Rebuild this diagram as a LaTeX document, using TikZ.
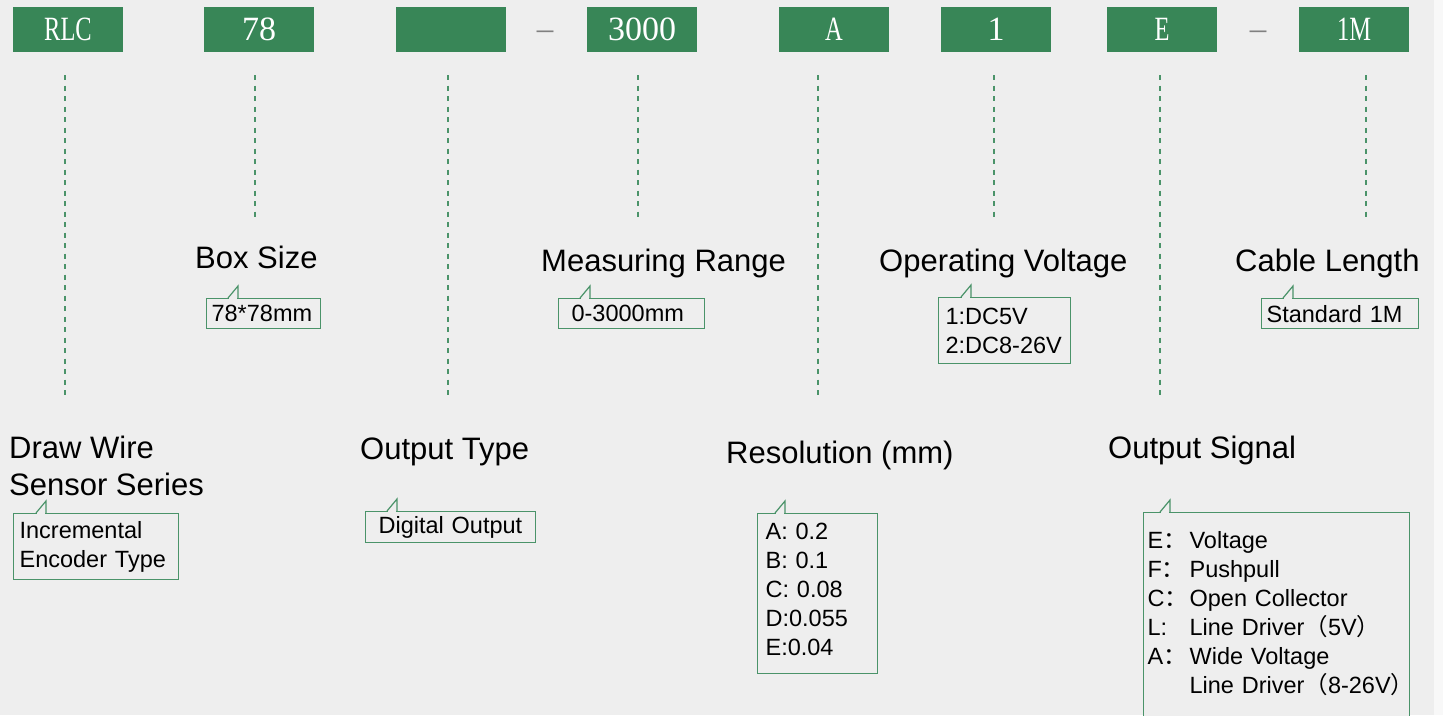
\documentclass[tikz,border=0pt]{standalone}
\usepackage{fontspec}
\usepackage{graphicx}
\setmainfont{Liberation Sans}
\newfontfamily\codefont{Liberation Serif}
\newfontfamily\cjk{Noto Sans CJK SC}
\definecolor{bg}{HTML}{EEEEEE}
\definecolor{strip}{HTML}{F8F8F8}
\definecolor{codegreen}{HTML}{388657}
\definecolor{linegreen}{HTML}{4A9369}
\newcommand\narrow[1]{\scalebox{0.72}[1]{#1}}
\newcommand\fw[1]{{\cjk #1}}
% little tab on top of a note box
\newcommand\notetab[2]{%
  \fill[bg] ([xshift=#2+0.8,yshift=-1.2]#1.north west) rectangle ++(8.4,-2.4);
  \draw[linegreen, line width=1.2pt] ([xshift=#2]#1.north west) -- ++(10,-12) -- ++(0,12);}
\tikzset{
  codebox/.style={fill=codegreen, text=white, minimum width=110, minimum height=45, inner sep=0,
    font=\codefont\fontsize{34}{36}\selectfont},
  sepmark/.style={text=gray, inner sep=0, font=\codefont\fontsize{33}{36}\selectfont},
  guide/.style={linegreen, line width=1.3pt, dash pattern=on 5pt off 5.5pt},
  heading/.style={anchor=base west, inner sep=0, align=left, font=\fontsize{31}{37}\selectfont},
  note/.style={draw=linegreen, line width=1.2pt, fill=bg, anchor=north west, align=left,
    inner ysep=0, font=\fontsize{23.5}{29}\selectfont},
}
\begin{document}
\begin{tikzpicture}[x=1pt, y=-1pt]
\useasboundingbox (0,0) rectangle (1443,715);
\fill[bg] (0,0) rectangle (1434,715);
\fill[strip] (1434,0) rectangle (1443,715);

% code boxes
\node[codebox] (rlc) at (68,29.5) {\narrow{RLC}};
\node[codebox] (size) at (259,29.5) {78};
\node[codebox] (type) at (451,29.5) {};
\node[sepmark] (dash1) at (545,35) {–};
\node[codebox] (range) at (642,29.5) {3000};
\node[codebox] (res) at (834,29.5) {\narrow{A}};
\node[codebox] (volt) at (996,29.5) {1};
\node[codebox] (signal) at (1162,29.5) {\narrow{E}};
\node[sepmark] (dash2) at (1258,35) {–};
\node[codebox] (cable) at (1354,29.5) {\narrow{1M}};

% guide lines
\coordinate (rlcend) at (65,400);
\coordinate (sizeend) at (255,220);
\coordinate (typeend) at (448,400);
\coordinate (rangeend) at (638,220);
\coordinate (resend) at (818,400);
\coordinate (voltend) at (994,220);
\coordinate (signalend) at (1160,400);
\coordinate (cableend) at (1366,220);
\draw[guide] (rlc.south -| rlcend) ++(0,23) -- (rlcend);
\draw[guide] (size.south -| sizeend) ++(0,23) -- (sizeend);
\draw[guide] (type.south -| typeend) ++(0,23) -- (typeend);
\draw[guide] (range.south -| rangeend) ++(0,23) -- (rangeend);
\draw[guide] (res.south -| resend) ++(0,23) -- (resend);
\draw[guide] (volt.south -| voltend) ++(0,23) -- (voltend);
\draw[guide] (signal.south -| signalend) ++(0,23) -- (signalend);
\draw[guide] (cable.south -| cableend) ++(0,23) -- (cableend);

% headings
\node[heading] (sizehead) at (195,268) {Box Size};
\node[heading] (rangehead) at (541,271) {Measuring Range};
\node[heading] (volthead) at (879,271) {Operating Voltage};
\node[heading] (cablehead) at (1235,271) {Cable Length};
\node[heading] (serieshead) at (9,495) {Draw Wire\\Sensor Series};
\node[heading] (typehead) at (360,459) {Output Type};
\node[heading] (reshead) at (726,463) {Resolution (mm)};
\node[heading] (signalhead) at (1108,458) {Output Signal};

% notes
\node[note, minimum height=30, inner xsep=5, text width=104] (sizenote) at (206,298) {78*78mm};
\node[note, minimum height=30, inner xsep=13, text width=120] (rangenote) at (558,298) {0-3000mm};
\node[note, minimum height=66, inner xsep=7, text width=118] (voltnote) at (938,297) {1:DC5V\\2:DC8-26V};
\node[note, minimum height=30, inner xsep=5, text width=147] (cablenote) at (1261,298) {Standard 1M};
\node[note, minimum height=66, inner xsep=6, text width=153] (seriesnote) at (13,513) {Incremental\\Encoder Type};
\node[note, minimum height=31, inner xsep=13, text width=144] (typenote) at (365,511) {Digital Output};
\node[note, minimum height=160, inner xsep=8, text width=104] (resnote) at (757,513) {%
  \begin{tabular}{@{}l@{}}
  A: 0.2\\B: 0.1\\C: 0.08\\D:0.055\\E:0.04\\[3pt]
  \end{tabular}};
\node[note, minimum height=206, inner xsep=4, text width=258] (signalnote) at (1143,512) {%
  \begin{tabular}{@{}p{42pt}@{}l@{}}
  E\fw{：} & Voltage\\
  F\fw{：} & Pushpull\\
  C\fw{：} & Open Collector\\
  L: & Line Driver\fw{（}5V\fw{）}\\
  A\fw{：} & Wide Voltage\\
   & Line Driver\fw{（}8-26V\fw{）}
  \end{tabular}};
\notetab{sizenote}{22}
\notetab{rangenote}{22}
\notetab{voltnote}{23}
\notetab{cablenote}{22}
\notetab{seriesnote}{23}
\notetab{typenote}{22}
\notetab{resnote}{18}
\notetab{signalnote}{17}
\end{tikzpicture}
\end{document}
